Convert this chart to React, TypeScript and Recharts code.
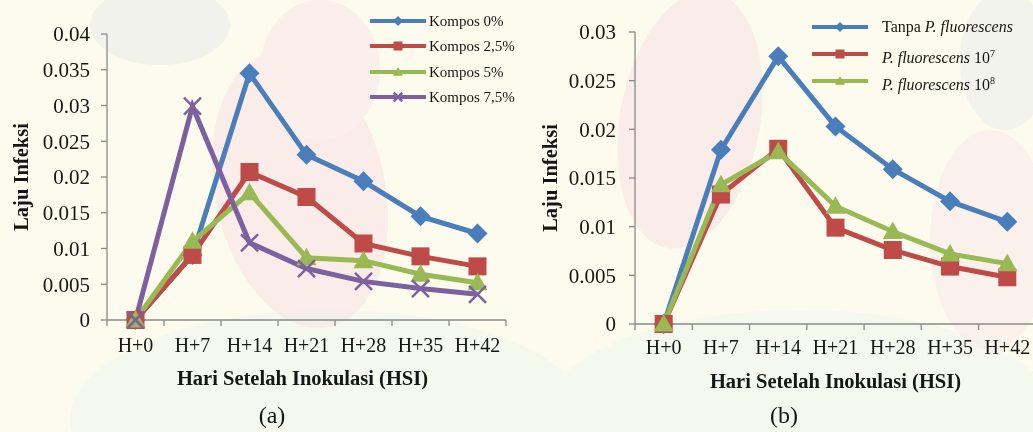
import React from "react";
import { LineChart, Line, XAxis, YAxis, Label } from "recharts";

// Hari setelah inokulasi
const days = ["H+0", "H+7", "H+14", "H+21", "H+28", "H+35", "H+42"];

// (a) laju infeksi per dosis kompos
const kompos0 = [0, 0.0091, 0.0345, 0.0231, 0.0194, 0.0145, 0.0121];
const kompos25 = [0, 0.0091, 0.0207, 0.0172, 0.0107, 0.0089, 0.0075];
const kompos5 = [0, 0.011, 0.0178, 0.0087, 0.0083, 0.0064, 0.0052];
const kompos75 = [0, 0.0299, 0.0108, 0.0072, 0.0054, 0.0044, 0.0036];

// (b) laju infeksi per kerapatan P. fluorescens
const tanpaPf = [0, 0.0179, 0.0275, 0.0203, 0.0159, 0.0126, 0.0105];
const pf107 = [0, 0.0133, 0.018, 0.0099, 0.0076, 0.0059, 0.0048];
const pf108 = [0, 0.0143, 0.0177, 0.0121, 0.0095, 0.0072, 0.0062];

const yTicksA = [0, 0.005, 0.01, 0.015, 0.02, 0.025, 0.03, 0.035, 0.04];
const yTicksB = [0, 0.005, 0.01, 0.015, 0.02, 0.025, 0.03];

const BLUE = "#4a7ebb";
const RED = "#be4b48";
const GREEN = "#98b954";
const PURPLE = "#7d60a0";
const INK = "#161616";
const AXIS = "#8a8a8a";
const FONT = '"Liberation Serif", "Times New Roman", serif';

type Shape = "diamond" | "square" | "triangle" | "cross";

const dataA = days.map((day, i) => ({
  day,
  k0: kompos0[i],
  k25: kompos25[i],
  k5: kompos5[i],
  k75: kompos75[i],
}));

const dataB = days.map((day, i) => ({
  day,
  tanpa: tanpaPf[i],
  pf7: pf107[i],
  pf8: pf108[i],
}));

const seriesA = [
  { key: "k0", color: BLUE, shape: "diamond" as Shape, label: <>Kompos 0%</> },
  { key: "k25", color: RED, shape: "square" as Shape, label: <>Kompos 2,5%</> },
  { key: "k5", color: GREEN, shape: "triangle" as Shape, label: <>Kompos 5%</> },
  { key: "k75", color: PURPLE, shape: "cross" as Shape, label: <>Kompos 7,5%</> },
];

const seriesB = [
  { key: "tanpa", color: BLUE, shape: "diamond" as Shape, label: <>Tanpa <i>P. fluorescens</i></> },
  { key: "pf7", color: RED, shape: "square" as Shape, label: <><i>P. fluorescens</i> 10<sup style={{ fontSize: 10 }}>7</sup></> },
  { key: "pf8", color: GREEN, shape: "triangle" as Shape, label: <><i>P. fluorescens</i> 10<sup style={{ fontSize: 10 }}>8</sup></> },
];

function Marker({ cx, cy, shape, color, r }: { cx: number; cy: number; shape: Shape; color: string; r: number }) {
  if (shape === "diamond") {
    return <polygon points={`${cx},${cy - r} ${cx + r},${cy} ${cx},${cy + r} ${cx - r},${cy}`} fill={color} />;
  }
  if (shape === "square") {
    const s = r * 0.9;
    return <rect x={cx - s} y={cy - s} width={s * 2} height={s * 2} fill={color} />;
  }
  if (shape === "triangle") {
    return <polygon points={`${cx},${cy - r} ${cx + r},${cy + r * 0.75} ${cx - r},${cy + r * 0.75}`} fill={color} />;
  }
  const d = r * 0.85;
  return (
    <g stroke={color} strokeWidth={2.5}>
      <line x1={cx - d} y1={cy - d} x2={cx + d} y2={cy + d} />
      <line x1={cx - d} y1={cy + d} x2={cx + d} y2={cy - d} />
    </g>
  );
}

const dotFor = (shape: Shape, color: string) => (p: any) =>
  <Marker key={`${shape}-${p.index}`} cx={p.cx} cy={p.cy} shape={shape} color={color} r={10} />;

// category label centred, tick marks on the category boundaries
function DayTick(props: any) {
  const { x, y, payload, index, visibleTicksCount, half, textDy } = props;
  const last = index === visibleTicksCount - 1;
  return (
    <g>
      <line x1={x - half} y1={y} x2={x - half} y2={y + 6} stroke={AXIS} strokeWidth={1.3} />
      {last && <line x1={x + half} y1={y} x2={x + half} y2={y + 6} stroke={AXIS} strokeWidth={1.3} />}
      <text x={x} y={y + textDy} textAnchor="middle" fontSize={20} fontFamily={FONT} fill={INK}>
        {payload.value}
      </text>
    </g>
  );
}

const fmt = (v: number) => (v === 0 ? "0" : String(v));

function Legend({ items, left, top, gap, textLeft, fontSize }: { items: typeof seriesA; left: number; top: number; gap: number; textLeft: number; fontSize: number }) {
  return (
    <div style={{ position: "absolute", left, top }}>
      {items.map((s, i) => (
        <div key={s.key} style={{ position: "absolute", top: i * gap - 10, left: 0, height: 20, whiteSpace: "nowrap" }}>
          <svg width={56} height={20} style={{ position: "absolute", left: 0, top: 0 }}>
            <line x1={1} y1={10} x2={55} y2={10} stroke={s.color} strokeWidth={4} strokeLinecap="round" />
            <Marker cx={28} cy={10} shape={s.shape} color={s.color} r={5} />
          </svg>
          <span style={{ position: "absolute", left: textLeft, top: 0, lineHeight: "20px", fontSize, fontFamily: FONT, color: INK }}>
            {s.label}
          </span>
        </div>
      ))}
    </div>
  );
}

// faint background emblem behind both panels
function Watermark() {
  return (
    <svg width={1033} height={432} style={{ position: "absolute", left: 0, top: 0 }}>
      <g opacity={0.5}>
        <ellipse cx={300} cy={190} rx={85} ry={140} fill="#f8dde3" transform="rotate(-12 300 190)" />
        <ellipse cx={320} cy={70} rx={60} ry={70} fill="#f9e3e8" />
        <ellipse cx={690} cy={120} rx={70} ry={130} fill="#f8dde3" transform="rotate(10 690 120)" />
        <ellipse cx={990} cy={240} rx={60} ry={110} fill="#fae6ea" />
        <ellipse cx={160} cy={25} rx={70} ry={40} fill="#e9e9ea" />
        <ellipse cx={1005} cy={60} rx={45} ry={70} fill="#ebebec" />
      </g>
      <g opacity={0.3}>
        <ellipse cx={330} cy={420} rx={260} ry={110} fill="#e3f2ee" />
        <ellipse cx={800} cy={420} rx={260} ry={110} fill="#e3f2ee" />
      </g>
    </svg>
  );
}

export default function App() {
  return (
    <div
      style={{
        position: "fixed",
        left: 0,
        top: 0,
        width: 1033,
        height: 432,
        overflow: "hidden",
        background: "#fcfbee",
        fontFamily: FONT,
      }}
    >
      <Watermark />

      {/* (a) kompos */}
      <div style={{ position: "absolute", left: 0, top: 0 }}>
        <LineChart width={520} height={400} data={dataA} margin={{ top: 34, right: 14, bottom: 0, left: 0 }}>
          <XAxis
            dataKey="day"
            height={80}
            interval={0}
            padding={{ left: 28.5, right: 28.5 }}
            tickLine={false}
            tickSize={0}
            tickMargin={0}
            axisLine={{ stroke: AXIS, strokeWidth: 1.3 }}
            tick={<DayTick half={28.5} textDy={32} />}
          >
            <Label
              content={({ viewBox }: any) => (
                <text x={viewBox.x + viewBox.width / 2 - 4} y={viewBox.y + 65} textAnchor="middle" fontSize={20.5} fontWeight="bold" fontFamily={FONT} fill={INK}>
                  Hari Setelah Inokulasi (HSI)
                </text>
              )}
            />
          </XAxis>
          <YAxis
            width={107}
            domain={[0, 0.04]}
            ticks={yTicksA}
            tickFormatter={fmt}
            tickSize={6}
            tickMargin={11}
            axisLine={{ stroke: AXIS, strokeWidth: 1.3 }}
            tickLine={{ stroke: AXIS, strokeWidth: 1.3 }}
            tick={{ fontSize: 21, fontFamily: FONT, fill: INK }}
          >
            <Label
              content={({ viewBox }: any) => {
                const cy = viewBox.y + viewBox.height / 2;
                return (
                  <text x={28} y={cy} transform={`rotate(-90 28 ${cy})`} textAnchor="middle" fontSize={20.5} fontWeight="bold" fontFamily={FONT} fill={INK}>
                    Laju Infeksi
                  </text>
                );
              }}
            />
          </YAxis>
          {seriesA.map((s) => (
            <Line
              key={s.key}
              dataKey={s.key}
              type="linear"
              stroke={s.color}
              strokeWidth={5}
              dot={dotFor(s.shape, s.color)}
              activeDot={false}
              isAnimationActive={false}
            />
          ))}
        </LineChart>
      </div>

      {/* (b) P. fluorescens */}
      <div style={{ position: "absolute", left: 520, top: 0 }}>
        <LineChart width={530} height={404} data={dataB} margin={{ top: 32, right: 14, bottom: 0, left: 0 }}>
          <XAxis
            dataKey="day"
            height={80}
            interval={0}
            padding={{ left: 28.7, right: 28.7 }}
            tickLine={false}
            tickSize={0}
            tickMargin={0}
            axisLine={{ stroke: AXIS, strokeWidth: 1.3 }}
            tick={<DayTick half={28.7} textDy={30} />}
          >
            <Label
              content={({ viewBox }: any) => (
                <text x={viewBox.x + viewBox.width / 2} y={viewBox.y + 64} textAnchor="middle" fontSize={20.5} fontWeight="bold" fontFamily={FONT} fill={INK}>
                  Hari Setelah Inokulasi (HSI)
                </text>
              )}
            />
          </XAxis>
          <YAxis
            width={115}
            domain={[0, 0.03]}
            ticks={yTicksB}
            tickFormatter={fmt}
            tickSize={6}
            tickMargin={13}
            axisLine={{ stroke: AXIS, strokeWidth: 1.3 }}
            tickLine={{ stroke: AXIS, strokeWidth: 1.3 }}
            tick={{ fontSize: 21, fontFamily: FONT, fill: INK }}
          >
            <Label
              content={({ viewBox }: any) => {
                const cy = viewBox.y + viewBox.height / 2;
                return (
                  <text x={37} y={cy} transform={`rotate(-90 37 ${cy})`} textAnchor="middle" fontSize={20.5} fontWeight="bold" fontFamily={FONT} fill={INK}>
                    Laju Infeksi
                  </text>
                );
              }}
            />
          </YAxis>
          {seriesB.map((s) => (
            <Line
              key={s.key}
              dataKey={s.key}
              type="linear"
              stroke={s.color}
              strokeWidth={5}
              dot={dotFor(s.shape, s.color)}
              activeDot={false}
              isAnimationActive={false}
            />
          ))}
        </LineChart>
      </div>

      <Legend items={seriesA} left={370} top={21} gap={25.3} textLeft={59} fontSize={15} />
      <Legend items={seriesB} left={812} top={27} gap={27} textLeft={70} fontSize={16} />

      <div style={{ position: "absolute", left: 0, width: 544, top: 402, textAlign: "center", fontSize: 24, color: INK }}>(a)</div>
      <div style={{ position: "absolute", left: 0, width: 1568, top: 402, textAlign: "center", fontSize: 24, color: INK }}>(b)</div>
    </div>
  );
}
